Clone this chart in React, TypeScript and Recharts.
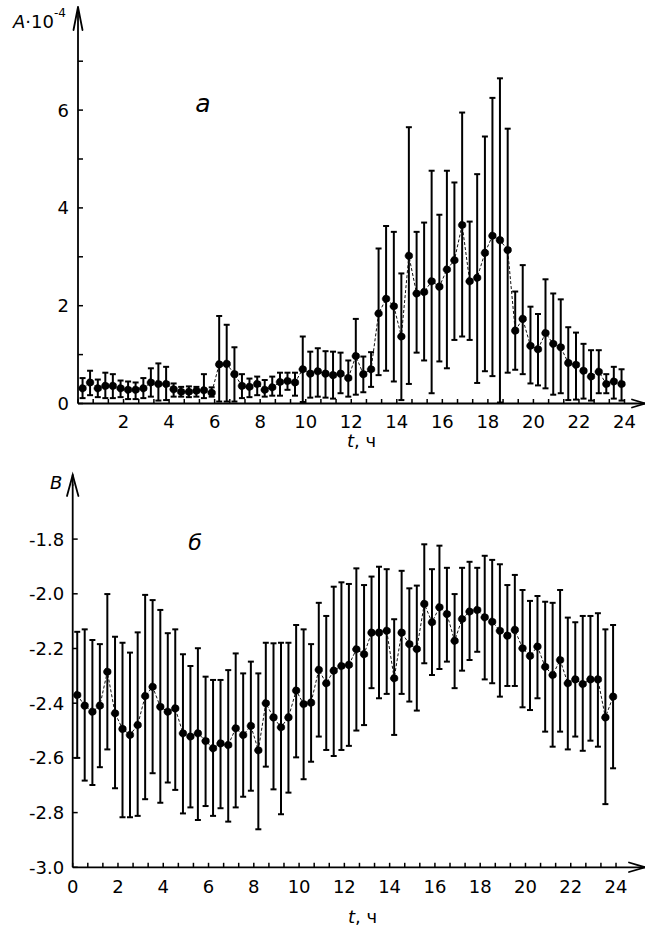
import React from 'react';
import { LineChart, Line, XAxis, YAxis, ErrorBar } from 'recharts';

const T_HOURS = [
  0.2, 0.53, 0.87, 1.2, 1.53, 1.87, 2.2, 2.53, 2.87, 3.2, 3.53, 3.87,
  4.2, 4.53, 4.87, 5.2, 5.53, 5.87, 6.2, 6.53, 6.87, 7.2, 7.53, 7.87,
  8.2, 8.53, 8.87, 9.2, 9.53, 9.87, 10.2, 10.53, 10.87, 11.2, 11.53, 11.87,
  12.2, 12.53, 12.87, 13.2, 13.53, 13.87, 14.2, 14.53, 14.87, 15.2, 15.53, 15.87,
  16.2, 16.53, 16.87, 17.2, 17.53, 17.87, 18.2, 18.53, 18.87, 19.2, 19.53, 19.87,
  20.2, 20.53, 20.87, 21.2, 21.53, 21.87, 22.2, 22.53, 22.87, 23.2, 23.53, 23.87,
];

const A_MEAN = [
  0.31, 0.43, 0.31, 0.36, 0.36, 0.31, 0.28, 0.28, 0.31, 0.43, 0.40, 0.40,
  0.29, 0.24, 0.24, 0.26, 0.27, 0.22, 0.80, 0.81, 0.60, 0.36, 0.34, 0.40,
  0.28, 0.33, 0.44, 0.46, 0.43, 0.70, 0.61, 0.66, 0.61, 0.58, 0.61, 0.52,
  0.97, 0.60, 0.70, 1.84, 2.14, 1.99, 1.37, 3.02, 2.25, 2.28, 2.50, 2.39,
  2.74, 2.93, 3.65, 2.50, 2.57, 3.08, 3.43, 3.34, 3.14, 1.49, 1.73, 1.18,
  1.11, 1.44, 1.22, 1.15, 0.83, 0.79, 0.67, 0.55, 0.65, 0.40, 0.45, 0.40,
];
const A_LOW = [
  0.11, 0.17, 0.13, 0.11, 0.11, 0.13, 0.09, 0.09, 0.11, 0.14, 0.06, 0.07,
  0.14, 0.14, 0.13, 0.14, 0.11, 0.14, 0.04, 0.04, 0.04, 0.11, 0.13, 0.17,
  0.14, 0.16, 0.16, 0.28, 0.16, 0.03, 0.12, 0.14, 0.12, 0.10, 0.21, 0.14,
  0.18, 0.23, 0.34, 0.58, 0.67, 0.45, 0.07, 0.40, 1.04, 0.88, 0.21, 0.86,
  0.72, 1.30, 1.37, 1.30, 0.42, 0.66, 0.56, 0.02, 0.63, 0.69, 0.60, 0.41,
  0.37, 0.31, 0.18, 0.21, 0.07, 0.08, 0.10, 0.06, 0.21, 0.21, 0.10, 0.06,
];
const A_HIGH = [
  0.52, 0.67, 0.49, 0.63, 0.60, 0.47, 0.45, 0.43, 0.52, 0.72, 0.82, 0.75,
  0.41, 0.34, 0.35, 0.34, 0.60, 0.33, 1.79, 1.61, 1.15, 0.60, 0.51, 0.55,
  0.48, 0.55, 0.63, 0.63, 0.63, 1.37, 1.06, 1.13, 1.07, 1.06, 1.04, 0.88,
  1.73, 0.96, 1.05, 3.17, 3.63, 3.51, 2.66, 5.65, 3.51, 3.70, 4.76, 3.86,
  4.76, 4.52, 5.95, 3.72, 4.69, 5.46, 6.25, 6.65, 5.62, 2.29, 2.83, 1.98,
  1.83, 2.54, 2.25, 2.13, 1.56, 1.45, 1.22, 1.09, 1.09, 0.60, 0.75, 0.70,
];

const B_MEAN = [
  -2.370, -2.409, -2.431, -2.409, -2.285, -2.437, -2.494, -2.516, -2.480, -2.374, -2.340, -2.413,
  -2.431, -2.419, -2.510, -2.522, -2.510, -2.538, -2.565, -2.547, -2.553, -2.492, -2.516, -2.483,
  -2.572, -2.400, -2.452, -2.488, -2.452, -2.354, -2.403, -2.398, -2.278, -2.327, -2.281, -2.264,
  -2.260, -2.203, -2.221, -2.142, -2.142, -2.135, -2.309, -2.142, -2.184, -2.202, -2.037, -2.104,
  -2.049, -2.074, -2.172, -2.092, -2.065, -2.059, -2.086, -2.102, -2.135, -2.153, -2.132, -2.199,
  -2.227, -2.193, -2.267, -2.297, -2.242, -2.327, -2.313, -2.330, -2.313, -2.313, -2.452, -2.376,
];
const B_HIGH = [
  -2.139, -2.130, -2.169, -2.184, -2.001, -2.157, -2.179, -2.215, -2.141, -2.004, -2.023, -2.059,
  -2.144, -2.130, -2.221, -2.264, -2.199, -2.303, -2.315, -2.315, -2.279, -2.218, -2.291, -2.248,
  -2.291, -2.179, -2.181, -2.179, -2.179, -2.114, -2.130, -2.184, -2.033, -2.081, -1.974, -1.958,
  -1.964, -1.907, -1.968, -1.937, -1.901, -1.910, -2.093, -1.916, -1.980, -1.970, -1.819, -1.910,
  -1.824, -1.905, -2.001, -1.905, -1.883, -1.905, -1.861, -1.876, -1.892, -1.968, -1.931, -1.986,
  -2.026, -2.008, -2.029, -2.033, -1.986, -2.087, -2.104, -2.081, -2.081, -2.071, -2.130, -2.114,
];
const B_LOW = [
  -2.600, -2.683, -2.699, -2.634, -2.569, -2.711, -2.817, -2.817, -2.812, -2.751, -2.656, -2.764,
  -2.690, -2.717, -2.803, -2.781, -2.827, -2.776, -2.812, -2.784, -2.833, -2.781, -2.742, -2.720,
  -2.861, -2.632, -2.715, -2.806, -2.727, -2.598, -2.678, -2.614, -2.522, -2.571, -2.593, -2.571,
  -2.556, -2.500, -2.480, -2.345, -2.382, -2.366, -2.516, -2.366, -2.394, -2.427, -2.254, -2.297,
  -2.275, -2.248, -2.345, -2.281, -2.242, -2.212, -2.313, -2.327, -2.376, -2.337, -2.337, -2.415,
  -2.425, -2.382, -2.504, -2.559, -2.504, -2.569, -2.522, -2.574, -2.537, -2.559, -2.769, -2.638,
];

const X_TICKS = [
  0, 0.667, 1.333, 2, 2.667, 3.333, 4, 4.667, 5.333, 6, 6.667, 7.333, 8, 8.667, 9.333,
  10, 10.667, 11.333, 12, 12.667, 13.333, 14, 14.667, 15.333, 16, 16.667, 17.333, 18,
  18.667, 19.333, 20, 20.667, 21.333, 22, 22.667, 23.333, 24,
];
const A_TICKS = [0, 1, 2, 3, 4, 5, 6, 7];
const B_TICKS = [-3.0, -2.8, -2.6, -2.4, -2.2, -2.0, -1.8];

const FONT = '"DejaVu Sans", "Liberation Sans", Arial, sans-serif';
const TICK_FS = 18;

const topData = T_HOURS.map((t, i) => ({
  t,
  v: A_MEAN[i],
  err: [A_MEAN[i] - A_LOW[i], A_HIGH[i] - A_MEAN[i]],
}));
const botData = T_HOURS.map((t, i) => ({
  t,
  v: B_MEAN[i],
  err: [B_MEAN[i] - B_LOW[i], B_HIGH[i] - B_MEAN[i]],
}));

const isEvenHour = (v: number) =>
  Math.abs(v - Math.round(v)) < 0.01 && Math.round(v) % 2 === 0;

const makeXTick = (showZero: boolean, labelDy: number) => (props: any) => {
  const { x, y, payload } = props;
  const v = payload.value as number;
  const r = Math.round(v);
  const lab = isEvenHour(v) && (showZero || r !== 0);
  return (
    <g>
      <line x1={x} y1={y} x2={x} y2={y - 4.5} stroke="#000" strokeWidth={1.5} />
      {lab && (
        <text x={x} y={y + labelDy} textAnchor="middle" fontSize={TICK_FS} fontFamily={FONT} fill="#000">
          {r}
        </text>
      )}
    </g>
  );
};

const makeYTick = (show: (v: number) => boolean, fmt: (v: number) => string, gap: number) => (props: any) => {
  const { x, y, payload } = props;
  const v = payload.value as number;
  return (
    <g>
      <line x1={x} y1={y} x2={x + 5} y2={y} stroke="#000" strokeWidth={1.5} />
      {show(v) && (
        <text x={x - gap} y={y} dy="0.36em" textAnchor="end" fontSize={TICK_FS} fontFamily={FONT} fill="#000">
          {fmt(v)}
        </text>
      )}
    </g>
  );
};

const axisStyle = { stroke: '#000', strokeWidth: 1.8 };
const dotStyle = { r: 3.8, fill: '#000', stroke: '#000', strokeWidth: 0.6 };

export default function App() {
  return (
    <div style={{ position: 'absolute', left: 0, top: 0, width: 645, height: 929, background: '#fff' }}>
      <div style={{ position: 'absolute', left: 0, top: 0 }}>
        <LineChart width={645} height={460} data={topData} margin={{ top: 12.3, right: 0, left: 0, bottom: 16.5 }}>
          <XAxis
            type="number"
            dataKey="t"
            domain={[0, 24.9]}
            ticks={X_TICKS}
            interval={0}
            tickSize={0}
            tickMargin={0}
            tickLine={false}
            axisLine={axisStyle}
            tick={makeXTick(false, 24.5)}
            height={40}
            allowDataOverflow
          />
          <YAxis
            type="number"
            domain={[0, 8]}
            ticks={A_TICKS}
            interval={0}
            tickSize={0}
            tickMargin={0}
            tickLine={false}
            axisLine={axisStyle}
            tick={makeYTick((v) => v % 2 === 0, (v) => String(v), 9)}
            width={78}
            allowDataOverflow
          />
          <Line
            type="linear"
            dataKey="v"
            stroke="#111"
            strokeWidth={1}
            strokeDasharray="3 2"
            dot={dotStyle}
            activeDot={false}
            isAnimationActive={false}
          >
            <ErrorBar dataKey="err" direction="y" width={3} stroke="#000" strokeWidth={2} isAnimationActive={false} />
          </Line>
        </LineChart>
      </div>
      <div style={{ position: 'absolute', left: 0, top: 440 }}>
        <LineChart width={645} height={489} data={botData} margin={{ top: 44.4, right: 0, left: 0, bottom: 21.7 }}>
          <XAxis
            type="number"
            dataKey="t"
            domain={[0, 25.28]}
            ticks={X_TICKS}
            interval={0}
            tickSize={0}
            tickMargin={0}
            tickLine={false}
            axisLine={axisStyle}
            tick={makeXTick(true, 26)}
            height={40}
            allowDataOverflow
          />
          <YAxis
            type="number"
            domain={[-3.0, -1.6]}
            ticks={B_TICKS}
            interval={0}
            tickSize={0}
            tickMargin={0}
            tickLine={false}
            axisLine={axisStyle}
            tick={makeYTick(() => true, (v) => v.toFixed(1), 8.5)}
            width={72.7}
            allowDataOverflow
          />
          <Line
            type="linear"
            dataKey="v"
            stroke="#111"
            strokeWidth={1}
            strokeDasharray="3 2"
            dot={dotStyle}
            activeDot={false}
            isAnimationActive={false}
          >
            <ErrorBar dataKey="err" direction="y" width={3} stroke="#000" strokeWidth={2} isAnimationActive={false} />
          </Line>
        </LineChart>
      </div>
      <svg
        width={645}
        height={929}
        style={{ position: 'absolute', left: 0, top: 0, pointerEvents: 'none' }}
      >
        <g stroke="#000" strokeWidth={1.8} fill="none" strokeLinecap="round">
          <line x1={78} y1={13} x2={78} y2={7} />
          <polyline points="73.5,30 78,7 82.5,30" />
          <polyline points="632,399.5 645,403.5 632,407.5" />
          <line x1={72.7} y1={485} x2={72.7} y2={475} />
          <polyline points="67,496 72.7,475 78.4,496" />
          <polyline points="629,862.5 645,867.3 629,872" />
        </g>
        <text x={13} y={28} fontSize={18} fontFamily={FONT} fill="#000">
          <tspan fontStyle="italic">A</tspan>
          <tspan>·10</tspan>
          <tspan fontSize={12} dy={-11}>-4</tspan>
        </text>
        <text x={203} y={112} fontSize={25} fontStyle="italic" textAnchor="middle" fontFamily={FONT} fill="#000">
          а
        </text>
        <text x={347} y={447} fontSize={18} fontFamily={FONT} fill="#000">
          <tspan fontStyle="italic">t</tspan>
          <tspan>, ч</tspan>
        </text>
        <text x={50} y={489} fontSize={18} fontStyle="italic" fontFamily={FONT} fill="#000">
          B
        </text>
        <text x={195} y={550} fontSize={22} fontStyle="italic" textAnchor="middle" fontFamily={FONT} fill="#000">
          б
        </text>
        <text x={348} y={923} fontSize={18} fontFamily={FONT} fill="#000">
          <tspan fontStyle="italic">t</tspan>
          <tspan>, ч</tspan>
        </text>
      </svg>
    </div>
  );
}
